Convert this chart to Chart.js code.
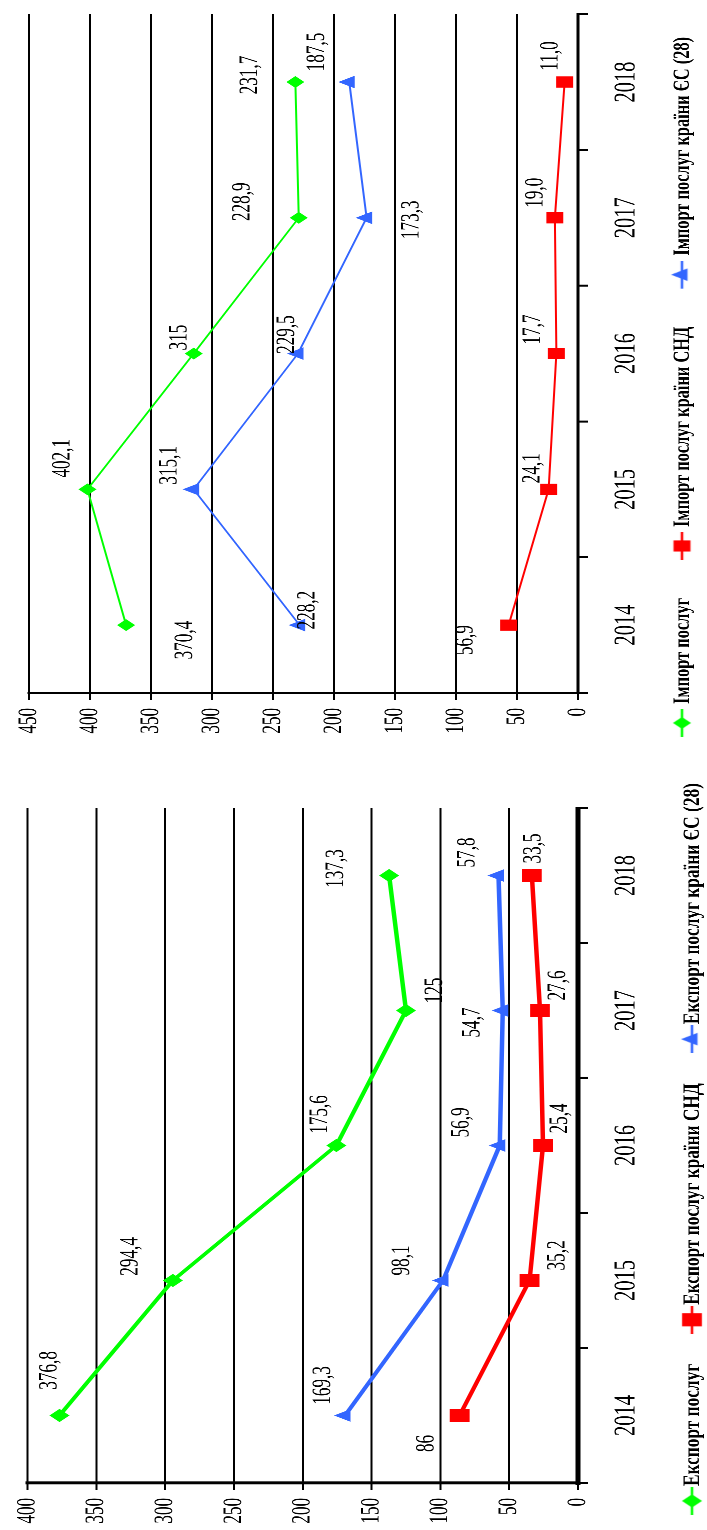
<!DOCTYPE html>
<html>
<head>
<meta charset="utf-8">
<script src="https://cdn.jsdelivr.net/npm/chart.js@4/dist/chart.umd.min.js"></script>
<style>
  html, body { margin: 0; padding: 0; background: #fff; width: 707px; height: 1530px; overflow: hidden; position: relative; }
  .rot { position: absolute; left: 0; transform-origin: 0 0; }
  .rot canvas { display: block; }
</style>
</head>
<body>
<div id="wImp" class="rot"><canvas id="cImp"></canvas></div>
<div id="wExp" class="rot"><canvas id="cExp"></canvas></div>
<script>
// ---------------- DATA ----------------
const years = ['2014', '2015', '2016', '2017', '2018'];

const importNames = ['Імпорт послуг', 'Імпорт послуг країни СНД', 'Імпорт послуг країни ЄС (28)'];
const importTotal = [370.4, 402.1, 315, 228.9, 231.7];
const importCIS   = [56.9, 24.1, 17.7, 19.0, 11.0];
const importEU    = [228.2, 315.1, 229.5, 173.3, 187.5];

const exportNames = ['Експорт послуг', 'Експорт послуг країни СНД', 'Експорт послуг країни ЄС (28)'];
const exportTotal = [376.8, 294.4, 175.6, 125, 137.3];
const exportCIS   = [86, 35.2, 25.4, 27.6, 33.5];
const exportEU    = [169.3, 98.1, 56.9, 54.7, 57.8];

const importAxisMax = 450;
const exportAxisMax = 400;
const axisStep = 50;

// decimals shown in each value label
const importDecimals = [[1,1,0,1,1],[1,1,1,1,1],[1,1,1,1,1]];
const exportDecimals = [[1,1,1,0,1],[0,1,1,1,1],[1,1,1,1,1]];

// ---------------- STYLE ----------------
const S = 0.66;                       // horizontal squeeze of the original figure
const FONT = '"Liberation Serif", "Times New Roman", serif';
const COLORS = ['#00ff00', '#ff0000', '#3366ff'];
const POINT_STYLES = ['rectRot', 'rect', 'triangle'];
const HC = 720;                       // canvas height (original vertical)

// label offsets relative to each point (px in the final, squeezed frame)
const importLabelOffsets = [
  [[-15,59],[31,-25],[16,-14],[16,-56],[7,-45]],
  [[-15,-43],[21,-16],[24,-23],[25,-19],[26,-14]],
  [[15,8],[24,-24],[19,-11],[-2,45],[30,-32]]
];
const exportLabelOffsets = [
  [[45,-10],[24,-42],[31,-16],[20,29],[7,-53]],
  [[-28,-33],[25,28],[27,17],[25,18],[27,2]],
  [[30,-22],[20,-41],[23,-38],[-12,-30],[23,-31]]
];

const valueLabels = {
  id: 'valueLabels',
  afterDatasetsDraw(chart, args, opts) {
    const ctx = chart.ctx;
    ctx.save();
    ctx.font = opts.font;
    ctx.fillStyle = '#000';
    ctx.textAlign = 'center';
    ctx.textBaseline = 'middle';
    chart.data.datasets.forEach((ds, di) => {
      const meta = chart.getDatasetMeta(di);
      meta.data.forEach((pt, i) => {
        const off = opts.offsets[di][i];
        const txt = ds.data[i].toFixed(opts.decimals[di][i]).replace('.', ',');
        ctx.fillText(txt, pt.x + off[0] / S, pt.y + off[1]);
      });
    });
    ctx.restore();
  }
};

// legend drawn in one row: icon (line + marker) followed by its (condensed) text
const lineLegend = {
  id: 'lineLegend',
  afterDraw(chart, args, o) {
    const ctx = chart.ctx;
    ctx.save();
    ctx.font = o.font;
    ctx.textBaseline = 'middle';
    ctx.textAlign = 'left';
    ctx.fillStyle = '#000';
    const k = (o.firstWidth / S) / ctx.measureText(chart.data.datasets[0].label).width;
    let uc = o.firstIcon;
    chart.data.datasets.forEach((ds, i) => {
      const icon = o.icons[i];
      const cx = uc / S;
      ctx.drawImage(icon, cx - icon.width / 2, o.v - icon.height / 2, icon.width, icon.height);
      const tx = (uc + o.iconToText) / S;
      ctx.save();
      ctx.translate(tx, o.v + 1);
      ctx.scale(k, 1);
      ctx.fillText(ds.label, 0, 0);
      ctx.restore();
      const w = ctx.measureText(ds.label).width * k;
      uc = (tx + w) * S + o.textToIcon;
    });
    ctx.restore();
  }
};

function drawMarker(g, style, x, y, r) {
  g.beginPath();
  if (style === 'rectRot') {
    g.moveTo(x - r, y); g.lineTo(x, y - r); g.lineTo(x + r, y); g.lineTo(x, y + r);
  } else if (style === 'rect') {
    const h = r * Math.SQRT1_2;
    g.rect(x - h, y - h, 2 * h, 2 * h);
  } else {
    g.moveTo(x, y - r);
    g.lineTo(x + r * 0.866, y + r * 0.5);
    g.lineTo(x - r * 0.866, y + r * 0.5);
  }
  g.closePath();
  g.fill();
}

function legendIcon(color, style, r, w) {
  const c = document.createElement('canvas');
  c.width = Math.round(w); c.height = 30;
  const g = c.getContext('2d');
  g.strokeStyle = color; g.fillStyle = color; g.lineWidth = 2.5;
  g.beginPath(); g.moveTo(0, 15); g.lineTo(c.width, 15); g.stroke();
  drawMarker(g, style, c.width / 2, 15, r);
  return c;
}

function makeChart(cfg) {
  const Wc = cfg.W / S;
  const wrap = document.getElementById(cfg.wrap);
  wrap.style.width = Wc + 'px';
  wrap.style.height = HC + 'px';
  wrap.style.top = cfg.bottomY + 'px';
  wrap.style.transform = 'rotate(-90deg) scale(' + S + ',1)';
  const canvas = document.getElementById(cfg.canvas);
  canvas.width = Wc; canvas.height = HC;
  canvas.style.width = Wc + 'px'; canvas.style.height = HC + 'px';

  const icons = cfg.names.map((n, i) => legendIcon(COLORS[i], POINT_STYLES[i], cfg.radii[i], 28 / S));
  const xH = 65;
  const padB = HC - cfg.axisV - xH;

  return new Chart(canvas, {
    type: 'line',
    data: {
      labels: years,
      datasets: cfg.series.map((d, i) => ({
        label: cfg.names[i],
        data: d,
        borderColor: COLORS[i],
        backgroundColor: COLORS[i],
        pointBackgroundColor: COLORS[i],
        pointBorderColor: COLORS[i],
        pointBorderWidth: 0,
        pointStyle: POINT_STYLES[i],
        pointRadius: cfg.radii[i],
        borderWidth: cfg.lineW,
        tension: 0,
        fill: false
      }))
    },
    options: {
      responsive: false,
      animation: false,
      devicePixelRatio: 2,
      layout: { padding: { left: 0, right: Wc - cfg.plotRight / S, top: cfg.topV, bottom: padB } },
      scales: {
        x: {
          offset: true,
          ticks: { font: { family: FONT, size: 31 }, color: '#000', padding: 20, maxRotation: 0, autoSkip: false },
          grid: { offset: true, drawOnChartArea: false, drawTicks: true, tickLength: 10, color: '#000', lineWidth: 2 / S },
          border: { display: true, color: '#000', width: cfg.axisW },
          afterFit: s => { s.height = xH; }
        },
        y: {
          min: 0, max: cfg.max,
          ticks: { stepSize: axisStep, font: { family: FONT, size: 26 }, color: '#000', padding: 12 },
          grid: { color: '#000', lineWidth: 2, drawTicks: true, tickLength: 7 / S },
          border: { display: true, color: '#000', width: cfg.yAxisW / S },
          afterFit: s => { s.width = cfg.plotLeft / S; }
        }
      },
      plugins: {
        tooltip: { enabled: false },
        legend: { display: false },
        valueLabels: { font: '26px ' + FONT, offsets: cfg.offsets, decimals: cfg.decimals },
        lineLegend: {
          font: 'bold 23px ' + FONT, icons: icons, v: cfg.legendV,
          firstIcon: cfg.legendFirstIcon, firstWidth: cfg.legendFirstWidth,
          iconToText: cfg.legendIconToText, textToIcon: cfg.legendGap
        }
      }
    },
    plugins: [valueLabels, lineLegend]
  });
}

makeChart({
  wrap: 'wImp', canvas: 'cImp', W: 740, bottomY: 740,
  plotLeft: 47, plotRight: 726, topV: 29, axisV: 578,
  legendV: 682, legendFirstIcon: 17, legendFirstWidth: 106, legendIconToText: 19, legendGap: 52,
  max: importAxisMax, names: importNames,
  series: [importTotal, importCIS, importEU],
  radii: [9, 12, 11], lineW: 2, axisW: 3, yAxisW: 2,
  offsets: importLabelOffsets, decimals: importDecimals
});

makeChart({
  wrap: 'wExp', canvas: 'cExp', W: 790, bottomY: 1530,
  plotLeft: 47, plotRight: 722, topV: 26, axisV: 578,
  legendV: 692, legendFirstIcon: 29, legendFirstWidth: 122, legendIconToText: 15, legendGap: 44,
  max: exportAxisMax, names: exportNames,
  series: [exportTotal, exportCIS, exportEU],
  radii: [10, 14, 11], lineW: 4.5, axisW: 5, yAxisW: 3,
  offsets: exportLabelOffsets, decimals: exportDecimals
});
</script>
</body>
</html>
